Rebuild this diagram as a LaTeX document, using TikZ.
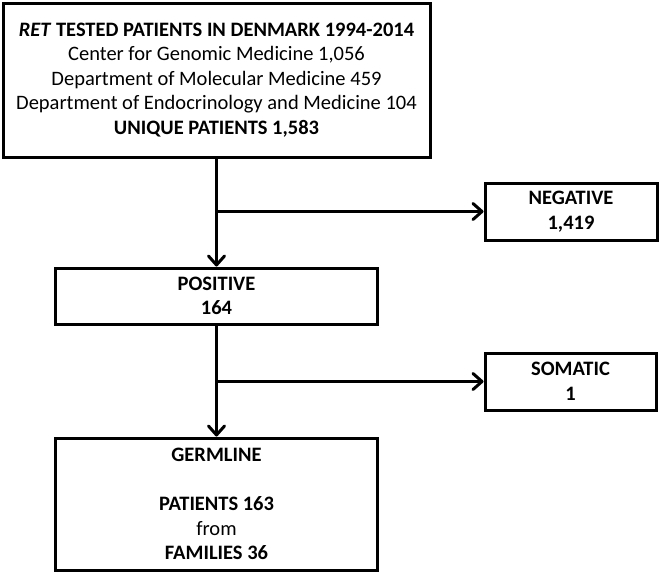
\documentclass[tikz,border=0pt]{standalone}
\usepackage{fontspec}
\setmainfont{Carlito}
\usetikzlibrary{arrows.meta}
\begin{document}
\begin{tikzpicture}[x=1pt,y=-1pt,
  box/.style={draw=black,line width=3pt,fill=white,inner sep=0pt,align=center,
    font=\fontsize{20.5}{24.5}\selectfont},
  arr/.style={line width=3pt,-{Straight Barb[length=9pt,width=16pt,line cap=round,line join=round]}}]
\useasboundingbox (0,0) rectangle (660,573);
\node[box,minimum width=427pt,minimum height=154pt] (top) at (216.5,80)
  {\textbf{\textit{RET} TESTED PATIENTS IN DENMARK 1994-2014}\\
   Center for Genomic Medicine 1,056\\
   Department of Molecular Medicine 459\\
   Department of Endocrinology and Medicine 104\\
   \textbf{UNIQUE PATIENTS 1,583}};
\node[box,minimum width=172pt,minimum height=57pt] (neg) at (571,211.5)
  {\textbf{NEGATIVE}\\\textbf{1,419}};
\node[box,minimum width=322pt,minimum height=56pt] (pos) at (216.5,296)
  {\textbf{POSITIVE}\\\textbf{164}};
\node[box,minimum width=171pt,minimum height=57pt] (som) at (570.5,381.5)
  {\textbf{SOMATIC}\\\textbf{1}};
\node[box,minimum width=322pt,minimum height=132pt] (germ) at (216.5,504)
  {\textbf{GERMLINE}\\[24.5pt]\textbf{PATIENTS 163}\\from\\\textbf{FAMILIES 36}};
\draw[arr] (top.south) -- (pos.north);
\draw[arr] (top.south |- neg.west) -- (neg.west);
\draw[arr] (pos.south) -- (germ.north);
\draw[arr] (pos.south |- som.west) -- (som.west);
\end{tikzpicture}
\end{document}
